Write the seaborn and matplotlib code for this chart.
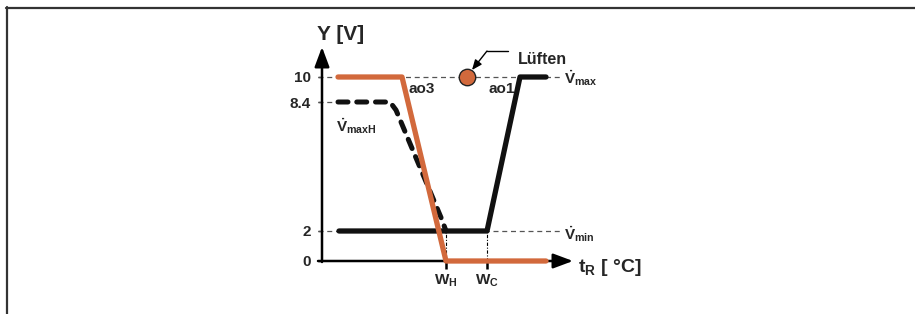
import numpy as np
import matplotlib.pyplot as plt
import seaborn as sns
from matplotlib.lines import Line2D

sns.set_style("white")
FONT = 'Liberation Sans'
plt.rcParams['font.family'] = [FONT, 'DejaVu Sans']
plt.rcParams['font.weight'] = 'bold'
plt.rcParams['mathtext.fontset'] = 'custom'
plt.rcParams['mathtext.rm'] = FONT + ':bold'
plt.rcParams['mathtext.it'] = FONT + ':bold'
plt.rcParams['mathtext.bf'] = FONT + ':bold'
plt.rcParams['mathtext.default'] = 'rm'

# Kennlinien (x = schematische Temperatur, y = Spannung [V])
ao3_x = [1.6, 8.0, 12.4, 22.4]
ao3_y = [10, 10, 0, 0]
ao1_x = [1.7, 16.5, 19.8, 22.4]
ao1_y = [2, 2, 10, 10]
vmaxh_x = [1.6, 6.8, 7.4, 12.0, 12.4]
vmaxh_y = [8.4, 8.4, 8.0, 2.55, 2]
luften_x = [14.5]
luften_y = [10]

y_ticks = [0, 2, 8.4, 10]
y_labels = ['0', '2', '8.4', '10']
x_ticks = [12.4, 16.5]
x_labels = [r'$W_H$', r'$W_C$']

ORANGE = '#D2693C'
BLACK = '#111111'

# schematische (nicht lineare) Y-Achse
scale_v = [0, 2, 8.4, 10]
scale_h = [0, 30, 159, 184]


def fwd(v):
    v = np.asarray(v, dtype=float)
    h = np.interp(v, scale_v, scale_h)
    h = np.where(v < 0, v * 15.0, h)
    h = np.where(v > 10, 184 + (v - 10) * 15.625, h)
    return h


def inv(h):
    h = np.asarray(h, dtype=float)
    v = np.interp(h, scale_h, scale_v)
    v = np.where(h < 0, h / 15.0, v)
    v = np.where(h > 184, 10 + (h - 184) / 15.625, v)
    return v


def yv(py):  # Pixelzeile -> Datenwert
    return float(inv(261 - py))


def xv(px):
    return (px - 322) / 10.0


fig = plt.figure(figsize=(9.15, 3.14), dpi=100)
ax = fig.add_axes([0, 0, 1, 1])
ax.set_yscale('function', functions=(fwd, inv))
ax.set_xlim(-32.2, 59.3)
ax.set_ylim(yv(314), yv(0))
ax.grid(False)

for s in ['top', 'right']:
    ax.spines[s].set_visible(False)
ax.spines['left'].set_position(('data', 0))
ax.spines['bottom'].set_position(('data', 0))
ax.spines['left'].set_visible(False)
ax.spines['bottom'].set_visible(False)

# Hilfslinien
gkw = dict(colors='#555555', lw=0.9, linestyles=(0, (4, 3)), zorder=1)
ax.hlines(10, -0.4, 23.8, **gkw)
ax.hlines(8.4, -0.4, 1.6, **gkw)
ax.hlines(2, -0.4, 24.0, **gkw)
ax.vlines(x_ticks, 0, 2, colors='k', lw=0.8, linestyles=(0, (3, 1.5, 1, 1.5)), zorder=1)

# Achsen mit Pfeilen
akw = dict(arrowstyle='-|>,head_length=0.75,head_width=0.28', color='k',
           lw=1.8, mutation_scale=16, shrinkA=0, shrinkB=0)
ax.annotate('', xy=(25.1, 0), xytext=(-0.4, 0), arrowprops=akw, zorder=2)
ax.annotate('', xy=(0, yv(47)), xytext=(0, yv(262)), arrowprops=akw, zorder=2)

# Kurven
sns.lineplot(x=ao1_x, y=ao1_y, ax=ax, color=BLACK, lw=3.8, sort=False,
             solid_capstyle='round', solid_joinstyle='round', zorder=3)
sns.lineplot(x=vmaxh_x, y=vmaxh_y, ax=ax, color=BLACK, lw=3.6, sort=False,
             linestyle=(0, (2.0, 1.75)), dash_capstyle='round', dash_joinstyle='round', zorder=3)
sns.lineplot(x=ao3_x, y=ao3_y, ax=ax, color=ORANGE, lw=3.8, sort=False,
             solid_capstyle='round', solid_joinstyle='round', zorder=4)
sns.scatterplot(x=luften_x, y=luften_y, ax=ax, s=140, color=ORANGE,
                edgecolor='#222222', linewidth=1.0, zorder=5)

# Ticks
ax.set_yticks(y_ticks, labels=y_labels)
ax.set_xticks(x_ticks, labels=x_labels)
ax.tick_params(axis='y', length=3, width=1, pad=5, labelsize=11, left=True, color='k')
ax.tick_params(axis='x', length=6, width=1.8, pad=2, labelsize=11, bottom=True, color='k')
ax.yaxis.set_minor_locator(plt.NullLocator())

# Beschriftungen
ax.text(xv(317), yv(35), 'Y [V]', fontsize=15, ha='left', va='center')
ax.text(xv(578), yv(268), r'$t_R$ [ °C]', fontsize=14, ha='left', va='center')
ax.text(xv(408), yv(89), 'ao3', fontsize=11, ha='left', va='center')
ax.text(xv(488), yv(89), 'ao1', fontsize=11, ha='left', va='center')
ax.text(xv(336), yv(126), r'$\dot{V}_{maxH}$', fontsize=11, ha='left', va='center')
ax.text(xv(564), yv(78), r'$\dot{V}_{max}$', fontsize=11, ha='left', va='center')
ax.text(xv(564), yv(234), r'$\dot{V}_{min}$', fontsize=11, ha='left', va='center')
ax.text(xv(518), yv(59), 'Lüften', fontsize=11.5, ha='left', va='center')

# Zeiger auf den Punkt "Lüften"
ax.plot([xv(508), xv(487)], [yv(51), yv(51)], color='k', lw=1)
ax.annotate('', xy=(xv(472), yv(70)), xytext=(xv(487), yv(51)),
            arrowprops=dict(arrowstyle='-|>,head_length=0.6,head_width=0.25', color='k',
                            lw=1, mutation_scale=10, shrinkA=0, shrinkB=0))

# Rahmen oben und links
fig.add_artist(Line2D([6 / 915, 1], [1 - 7.5 / 314] * 2, transform=fig.transFigure,
                      color='#333333', lw=1.6))
fig.add_artist(Line2D([6.5 / 915] * 2, [0, 1 - 7 / 314], transform=fig.transFigure,
                      color='#333333', lw=1.6))

fig.savefig('out.png', dpi=100)
